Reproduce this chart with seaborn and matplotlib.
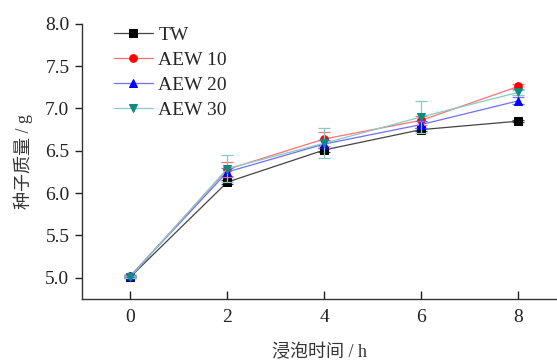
import pandas as pd
import numpy as np
import matplotlib.pyplot as plt
import seaborn as sns

# soaking time (h)
hours = [0, 2, 4, 6, 8]

# seed mass (g)
tw = [5.01, 6.13, 6.51, 6.75, 6.85]
aew10 = [5.02, 6.28, 6.64, 6.86, 7.26]
aew20 = [5.02, 6.25, 6.58, 6.81, 7.09]
aew30 = [5.01, 6.29, 6.59, 6.90, 7.19]

# error bars
tw_err = [0.01, 0.02, 0.02, 0.02, 0.01]
aew10_err = [0.01, 0.09, 0.08, 0.05, 0.03]
aew20_err = [0.01, 0.05, 0.05, 0.04, 0.04]
aew30_err = [0.01, 0.16, 0.18, 0.19, 0.03]

series_names = ['TW', 'AEW 10', 'AEW 20', 'AEW 30']

rows = []
for name, vals, errs in zip(series_names, [tw, aew10, aew20, aew30],
                            [tw_err, aew10_err, aew20_err, aew30_err]):
    for h, v, e in zip(hours, vals, errs):
        rows.append({'time': h, 'mass': v, 'err': e, 'group': name})
df = pd.DataFrame(rows)

sns.set_theme(style="ticks")
plt.rcParams['font.family'] = ['Liberation Serif', 'Noto Sans CJK SC']

fig = plt.figure(figsize=(5.57, 3.61), dpi=100)
ax = fig.add_axes([0.147, 0.172, 0.853, 0.762])

styles = {
    'TW': dict(line='#444444', face='black', marker='s'),
    'AEW 10': dict(line='#ff7070', face='red', marker='o'),
    'AEW 20': dict(line='#6f6fff', face='blue', marker='^'),
    'AEW 30': dict(line='#86cbc4', face='#0e8a80', marker='v'),
}

for name in series_names:
    sub = df[df['group'] == name]
    st = styles[name]
    ax.errorbar(sub['time'], sub['mass'], yerr=sub['err'], fmt='none',
                ecolor=st['line'], elinewidth=0.9, capsize=4, capthick=0.9)
    sns.lineplot(data=sub, x='time', y='mass', ax=ax, color=st['line'],
                 linewidth=0.9, marker=st['marker'], markersize=5.5,
                 markerfacecolor=st['face'], markeredgecolor=st['face'],
                 label=name)

ax.set_xlim(-1, 8.8)
ax.set_ylim(4.75, 8.0)
ax.set_xticks([0, 2, 4, 6, 8])
ax.set_yticks([5.0, 5.5, 6.0, 6.5, 7.0, 7.5, 8.0])
ax.set_yticklabels(['5.0', '5.5', '6.0', '6.5', '7.0', '7.5', '8.0'])

ax.spines['top'].set_visible(False)
ax.spines['right'].set_visible(False)
ax.spines['left'].set_color('#333333')
ax.spines['bottom'].set_color('#333333')
ax.spines['left'].set_linewidth(1.0)
ax.spines['bottom'].set_linewidth(1.0)
ax.tick_params(axis='x', direction='in', length=6, width=1, pad=7,
               labelsize=14, colors='#222222')
ax.tick_params(axis='y', direction='out', length=5, width=1, pad=4,
               labelsize=14, colors='#222222')

ax.set_xlabel('浸泡时间 / h', fontsize=13, color='#333333', labelpad=13)
ax.set_ylabel('种子质量 / g', fontsize=13, color='#333333', labelpad=9)

ax.legend(loc='upper left', bbox_to_anchor=(0.03, 1.055), frameon=False,
          fontsize=14, handlelength=2.0, handletextpad=0.3,
          labelspacing=0.38)

plt.savefig('out.png', dpi=100)
plt.close()
